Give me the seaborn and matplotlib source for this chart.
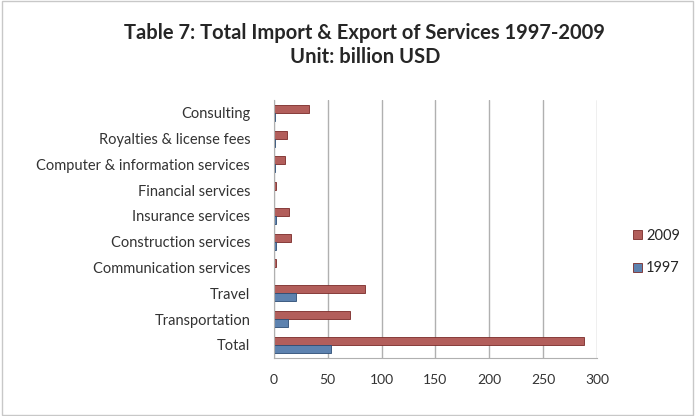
import matplotlib
matplotlib.use('Agg')
import matplotlib.pyplot as plt
import pandas as pd
import seaborn as sns

categories = ['Consulting', 'Royalties & license fees', 'Computer & information services',
              'Financial services', 'Insurance services', 'Construction services',
              'Communication services', 'Travel', 'Transportation', 'Total']
values_2009 = [33, 12, 10, 2, 14, 16, 2, 85, 71, 288]
values_1997 = [1, 1, 1, 0.5, 2, 2, 0.5, 21, 13, 53]
years = ['2009', '1997']

df = pd.DataFrame({
    'category': categories * 2,
    'value': values_2009 + values_1997,
    'year': [years[0]] * len(categories) + [years[1]] * len(categories),
})

sns.set_style('white')
plt.rcParams['font.family'] = ['Lato', 'DejaVu Sans']

fig = plt.figure(figsize=(6.95, 4.16), dpi=100)
ax = fig.add_axes([0.394, 0.14, 0.465, 0.62])

sns.barplot(data=df, y='category', x='value', hue='year', hue_order=years,
            order=categories, palette={'2009': '#C0504D', '1997': '#4F81BD'},
            orient='h', width=0.62, edgecolor='#7a2a28', linewidth=0.6, ax=ax)
for bar in ax.containers[1]:
    bar.set_edgecolor('#2c4d75')

ax.set_xlim(0, 300)
ax.set_xticks(range(0, 301, 50))
ax.xaxis.grid(True, color='#b0b0b0', linewidth=1)
ax.set_axisbelow(True)
ax.set_xlabel('')
ax.set_ylabel('')
ax.tick_params(axis='y', labelsize=10.5, colors='#333333', length=0, pad=17)
ax.tick_params(axis='x', labelsize=10, colors='#333333', length=0, pad=12)
for s in ['top', 'right']:
    ax.spines[s].set_visible(False)
for s in ['left', 'bottom']:
    ax.spines[s].set_color('#b0b0b0')

ax.legend(loc='center left', bbox_to_anchor=(1.07, 0.41), frameon=False,
          fontsize=10.5, handlelength=0.6, handleheight=0.6, handletextpad=0.3,
          labelspacing=1.3)

fig.text(0.525, 0.92, 'Table 7: Total Import & Export of Services 1997-2009',
         ha='center', va='center', fontsize=14.5, fontweight='bold')
fig.text(0.525, 0.862, 'Unit: billion USD', ha='center', va='center',
         fontsize=14.5, fontweight='bold')

border = plt.Rectangle((0.003, 0.003), 0.994, 0.994, transform=fig.transFigure,
                       fill=False, edgecolor='#c8c8c8', linewidth=1)
fig.patches.append(border)

fig.savefig('out.png', dpi=100)
